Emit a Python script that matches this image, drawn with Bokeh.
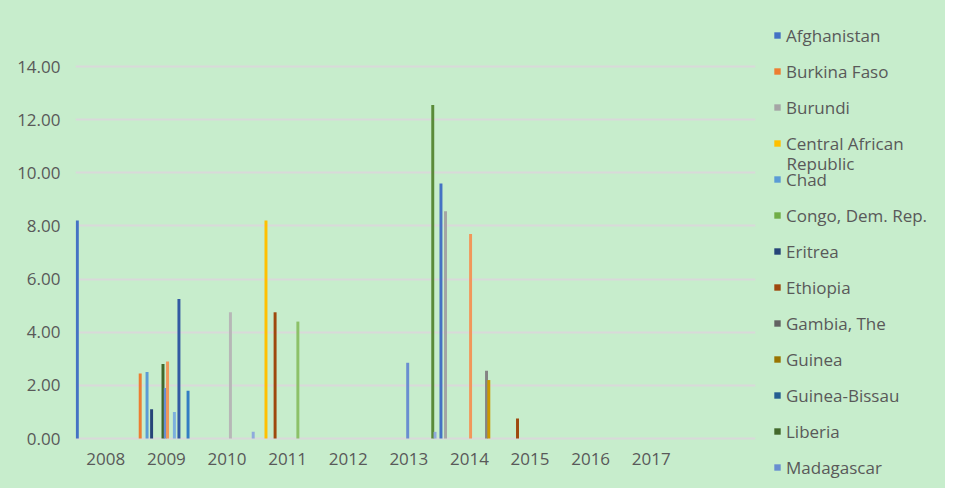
from bokeh.plotting import figure
from bokeh.layouts import row
from bokeh.models import (ColumnDataSource, Range1d, FixedTicker, NumeralTickFormatter,
                          Legend, LegendItem, Label)
from bokeh.embed import file_html
from bokeh.resources import INLINE

# ---------------- data ----------------
years = ["2008", "2009", "2010", "2011", "2012", "2013", "2014", "2015", "2016", "2017"]

countries = ["Afghanistan", "Burkina Faso", "Burundi", "Central African Republic", "Chad",
             "Congo, Dem. Rep.", "Eritrea", "Ethiopia", "Gambia, The", "Guinea",
             "Guinea-Bissau", "Liberia", "Madagascar", "Malawi", "Mali", "Mozambique",
             "Nepal", "Niger", "Rwanda", "Senegal", "Sierra Leone", "Somalia",
             "South Sudan", "Tanzania", "Togo", "Uganda"]

colors = ["#4472C4", "#ED7D31", "#A5A5A5", "#FFC000", "#5B9BD5", "#70AD47",
          "#264478", "#9E480E", "#636363", "#997300", "#255E91", "#43682B",
          "#698ED0", "#F1975A", "#B7B7B7", "#FFCD33", "#7CAFDD", "#8CC168",
          "#335AA2", "#C65911", "#848484", "#CC9900", "#327DC3", "#5A8B39",
          "#8FAADC", "#F4B183"]

bar_years = ["2008",
             "2009", "2009", "2009", "2009", "2009", "2009", "2009", "2009", "2009",
             "2010", "2010",
             "2011", "2011", "2011",
             "2013", "2013", "2013",
             "2014", "2014", "2014", "2014", "2014",
             "2015"]
bar_countries = ["Afghanistan",
                 "Burkina Faso", "Chad", "Eritrea", "Liberia", "Madagascar", "Malawi",
                 "Nepal", "Rwanda", "South Sudan",
                 "Mali", "Togo",
                 "Central African Republic", "Ethiopia", "Niger",
                 "Madagascar", "Tanzania", "Togo",
                 "Afghanistan", "Burundi", "Malawi", "Sierra Leone", "Somalia",
                 "Ethiopia"]
bar_values = [8.2,
              2.45, 2.5, 1.1, 2.8, 1.9, 2.9, 1.0, 5.25, 1.8,
              4.75, 0.25,
              8.2, 4.75, 4.4,
              2.85, 12.55, 0.25,
              9.6, 8.55, 7.7, 2.55, 2.2,
              0.75]

legend_count = 13
y_ticks = [0, 2, 4, 6, 8, 10, 12, 14]

# ---------------- style ----------------
GREEN = "#C7EDCC"
TEXT = "#595959"
FONT = "Open Sans"
n_slots = len(countries) + 0.6      # series slots per category incl. gap
slot = 1.0 / n_slots
px_per_unit = 372 / 14.0            # vertical scale of the value axis
H = 488
bg = {"background-color": GREEN}

p = figure(frame_width=680, frame_height=H,
           x_range=Range1d(0, 11.22),
           y_range=Range1d(-50 / px_per_unit, 14 + 66 / px_per_unit),
           output_backend="svg", toolbar_location=None,
           min_border_left=75, min_border_right=10,
           min_border_top=0, min_border_bottom=0,
           background_fill_color=GREEN, border_fill_color=GREEN,
           outline_line_color=None, styles=bg)

for i, c in enumerate(countries):
    xs, tops = [], []
    for y, cc, v in zip(bar_years, bar_countries, bar_values):
        if cc == c:
            k = years.index(y)
            xs.append(k + (0.3 + i + 0.5) * slot)
            tops.append(v)
    src = ColumnDataSource(dict(x=xs, top=tops))
    p.vbar(x="x", top="top", bottom=0, width=slot * 1.3, source=src,
           fill_color=colors[i], line_color=None)

# axes
p.xaxis.fixed_location = 0
p.xaxis.ticker = FixedTicker(ticks=[k + 0.5 for k in range(len(years))])
p.xaxis.major_label_overrides = {k + 0.5: y for k, y in enumerate(years)}
p.yaxis.ticker = FixedTicker(ticks=y_ticks)
p.yaxis.formatter = NumeralTickFormatter(format="0.00")
for ax in (p.xaxis[0], p.yaxis[0]):
    ax.axis_line_color = None
    ax.major_tick_line_color = None
    ax.minor_tick_line_color = None
    ax.major_tick_out = 0
    ax.major_tick_in = 0
    ax.major_label_text_font = FONT
    ax.major_label_text_font_size = "17px"
    ax.major_label_text_color = TEXT
p.yaxis.major_label_standoff = 15
p.xaxis.major_label_standoff = 14

p.xgrid.grid_line_color = None
p.ygrid.grid_line_color = "#D9D9D9"
p.ygrid.grid_line_width = 2

# ---------------- legend panel ----------------
lg = figure(frame_width=180, frame_height=H, x_range=Range1d(0, 1), y_range=Range1d(0, 1),
            x_axis_type=None, y_axis_type=None,
            output_backend="svg", toolbar_location=None,
            min_border_left=0, min_border_right=0, min_border_top=0, min_border_bottom=0,
            background_fill_color=GREEN, border_fill_color=GREEN,
            outline_line_color=None, styles=bg)
lg.grid.grid_line_color = None

items = []
for i in range(legend_count):
    # swatch-only renderer for the legend key (zero-size bar, draws nothing itself)
    r = lg.vbar(x=[0.5], top=[0], bottom=[0], width=0, fill_color=colors[i],
                line_color=None)
    items.append(LegendItem(label=countries[i] if i != 3 else "Central African",
                            renderers=[r]))

legend = Legend(items=items, location=(8, 3), orientation="vertical",
                label_text_font=FONT, label_text_font_size="17px",
                label_text_color=TEXT, glyph_width=8, glyph_height=8,
                label_standoff=5, label_height=36, spacing=0, padding=0, margin=0,
                border_line_color=None, background_fill_alpha=0)
lg.add_layout(legend)

lg.add_layout(Label(x=21, y=325, x_units="screen", y_units="screen", text="Republic",
                    text_baseline="middle", text_font=FONT, text_font_size="17px",
                    text_color=TEXT))

layout = row(p, lg, spacing=0, styles=bg)
open("out.html", "w").write(file_html(layout, INLINE))
